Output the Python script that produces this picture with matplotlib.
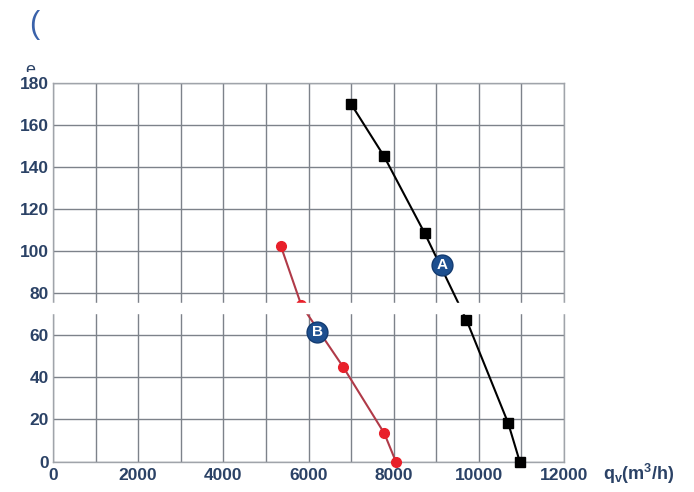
import numpy as np
import matplotlib
matplotlib.use("Agg")
import matplotlib.pyplot as plt
from matplotlib.transforms import Bbox

# curve A (black squares)
a_flow = [7000, 7770, 8730, 9710, 10690, 10960]
a_press = [170, 145.3, 108.5, 67.3, 18.2, 0]
# curve B (red circles)
b_flow = [5350, 5830, 6810, 7780, 8050]
b_press = [102.5, 74.4, 45.1, 13.4, 0]
# curve labels
curve_names = ["A", "B"]
label_flow = [9140, 6200]
label_press = [93.4, 61.7]

x_ticks = [0, 2000, 4000, 6000, 8000, 10000, 12000]
y_ticks = [0, 20, 40, 60, 80, 100, 120, 140, 160, 180]

plt.rcParams['font.family'] = ['Liberation Sans', 'DejaVu Sans']
tick_col = '#2b4266'
grid_col = '#7d828a'

fig = plt.figure(figsize=(6.94, 4.92), dpi=100)
ax = fig.add_axes([53/694, 1 - 461.5/492, (564 - 53)/694, (461.5 - 83)/492])

ax.set_xlim(0, 12000)
ax.set_ylim(0, 180)
ax.set_xticks(np.arange(0, 12001, 1000))
ax.set_yticks(y_ticks)
ax.set_xticklabels([str(v) if v in x_ticks else '' for v in np.arange(0, 12001, 1000)])
ax.tick_params(length=0, labelsize=12.5, colors=tick_col)
ax.tick_params(axis='y', pad=3)
ax.tick_params(axis='x', pad=5)
for lab in ax.get_xticklabels() + ax.get_yticklabels():
    lab.set_fontweight('bold')
ax.grid(True, color=grid_col, lw=1)
for s in ax.spines.values():
    s.set_color('#a0a4aa')
    s.set_linewidth(1)

ax.plot(a_flow, a_press, color='black', lw=1.5, marker='s', ms=6.5, clip_on=False, zorder=3)
ax.plot(b_flow, b_press, color='#b03a48', lw=1.5, marker='o', ms=7,
        mfc='#e8202a', mec='#e8202a', clip_on=False, zorder=3)

for name, fx, py in zip(curve_names, label_flow, label_press):
    ax.plot(fx, py, 'o', ms=15, color='#1d4f8f', mec='#123a70', zorder=4)
    ax.text(fx, py, name, color='white', fontsize=11, fontweight='bold',
            ha='center', va='center', zorder=5)

# white band cutting across the chart
ax.axhspan(70.5, 75.3, xmin=-0.03, xmax=1.02, color='white', zorder=10, clip_on=False)

fig.text(603/694, 1 - 474/492, r'q$_\mathregular{v}$(m$^\mathregular{3}$/h)',
         fontsize=13, color=tick_col, fontweight='bold', ha='left', va='center')

# stray characters at the top left
fig.text(34/694, 1 - 25/492, '(', fontsize=22, color='#3a62aa', ha='center', va='center')
t = fig.text(30/694, 1 - 62/492, 'e', fontsize=13, color=tick_col, ha='center', va='top')
t.set_clip_box(Bbox([[0, 492 - 72], [694, 492]]))
t.set_clip_on(True)

fig.savefig('out.png', dpi=100, facecolor='white')
